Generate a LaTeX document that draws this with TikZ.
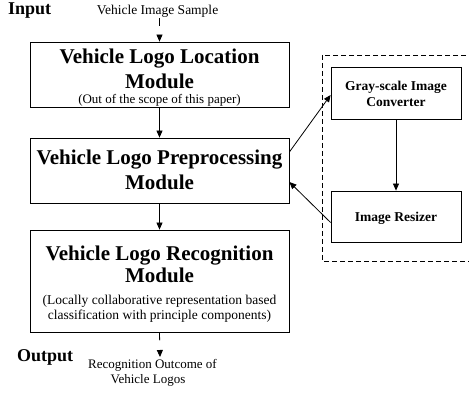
\documentclass[tikz,border=0pt]{standalone}
\usepackage{fontspec}
\setmainfont{Liberation Serif}
\usetikzlibrary{arrows.meta}
\begin{document}
\begin{tikzpicture}[x=1pt,y=-1pt,
  box/.style={draw,line width=0.8pt,minimum width=259pt,inner sep=0pt},
  sbox/.style={draw,line width=0.8pt,minimum width=130pt,inner sep=0pt},
  ttl/.style={font=\fontsize{21}{23}\selectfont\bfseries,anchor=base,inner sep=0pt},
  sub/.style={font=\fontsize{13.5}{15}\selectfont,anchor=base,inner sep=0pt},
  stl/.style={font=\fontsize{13.5}{15.5}\selectfont\bfseries,align=center,inner sep=0pt},
  lbl/.style={font=\fontsize{18}{20}\selectfont\bfseries,anchor=base west,inner sep=0pt},
  arr/.style={line width=0.8pt,-{Triangle[length=7pt,width=6pt]}},
  darr/.style={arr,dash pattern=on 8pt off 20pt}]
\useasboundingbox (0,0) rectangle (469,393);
\clip (0,0) rectangle (469,393);
% main boxes
\node[box,minimum height=65pt] (loc) at (159.5,74.5) {};
\node[box,minimum height=65pt] (pre) at (159.5,170.5) {};
\node[box,minimum height=102pt] (rec) at (159.5,281) {};
% texts
\node[lbl] (inl) at (8,14.5) {Input};
\node[sub,anchor=base] (ins) at (157.5,15) {Vehicle Image Sample};
\node[ttl] (loc1) at (159.5,64) {Vehicle Logo Location};
\node[ttl] (loc2) at (159.5,88.5) {Module};
\node[sub,font=\fontsize{13}{15}\selectfont] (loc3) at (159.5,104) {(Out of the scope of this paper)};
\node[ttl] (pre1) at (159.5,165) {Vehicle Logo Preprocessing};
\node[ttl] (pre2) at (159.5,190) {Module};
\node[ttl] (rec1) at (159.5,260) {Vehicle Logo Recognition};
\node[ttl] (rec2) at (159.5,283) {Module};
\node[sub] (rec3) at (159.5,304) {(Locally collaborative representation based};
\node[sub] (rec4) at (159.5,319) {classification with principle components)};
\node[lbl] (outl) at (17,361.7) {Output};
\node[sub,font=\fontsize{13}{15}\selectfont] (out1) at (152.5,368) {Recognition Outcome of};
\node[sub,font=\fontsize{13}{15}\selectfont] (out2) at (148,383) {Vehicle Logos};
\coordinate (outend) at (160,357);
% side part
\draw[line width=0.8pt,dashed,dash pattern=on 5pt off 3pt] (322,55) rectangle (480,261);
\node[sbox,minimum height=52pt] (gray) at (396,93) {};
\node[stl] (grayt) at (396,94) {Gray-scale Image\\Converter};
\node[sbox,minimum height=51pt] (res) at (396,216.5) {};
\node[stl,anchor=base] (rest) at (396,222) {Image Resizer};
% connectors
\draw[darr] (ins.south -| loc.north) -- (loc.north);
\draw[arr] (loc.south) -- (pre.north);
\draw[arr] (pre.south) -- (rec.north);
\draw[darr] (rec.south) -- (outend);
\draw[arr] ([yshift=18.5pt]pre.east) -- ([yshift=-2pt]gray.west);
\draw[arr] (gray.south) -- (res.north);
\draw[arr] ([yshift=-6pt]res.west) -- ([yshift=-11.5pt]pre.east);
\end{tikzpicture}
\end{document}
